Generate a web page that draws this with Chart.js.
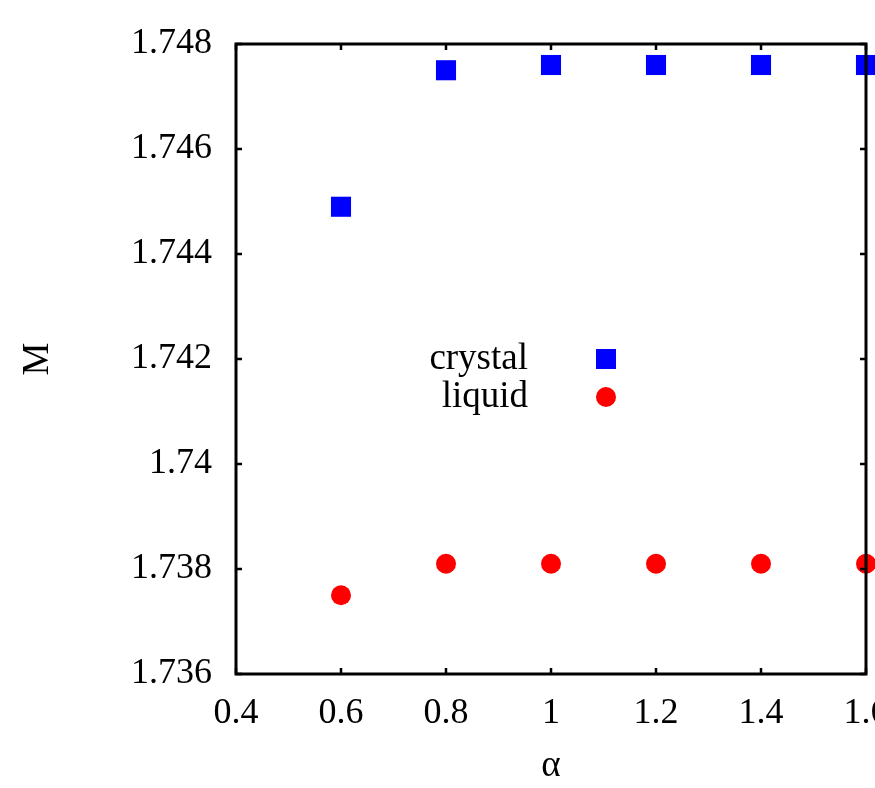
<!DOCTYPE html>
<html>
<head>
<meta charset="utf-8">
<script src="https://cdn.jsdelivr.net/npm/chart.js@4/dist/chart.umd.min.js"></script>
<style>
  html, body { margin: 0; padding: 0; background: #fff; }
  #wrap { width: 875px; height: 788px; }
</style>
</head>
<body>
<div id="wrap"><canvas id="c" width="875" height="788"></canvas></div>
<script>
const alphaValues = [0.6, 0.8, 1.0, 1.2, 1.4, 1.6];
const crystalM = [1.7449, 1.7475, 1.7476, 1.7476, 1.7476, 1.7476];
const liquidM = [1.7375, 1.7381, 1.7381, 1.7381, 1.7381, 1.7381];
const xTickValues = [0.4, 0.6, 0.8, 1.0, 1.2, 1.4, 1.6];
const yTickValues = [1.736, 1.738, 1.740, 1.742, 1.744, 1.746, 1.748];

const FONT = "'Liberation Serif', 'Times New Roman', serif";
const fmt = (v) => String(Number(v.toFixed(3)));

// frame + inward ticks on all four sides, drawn over the points
const framePlugin = {
  id: 'frame',
  afterDatasetsDraw(chart) {
    const { ctx, chartArea: a, scales: { x, y } } = chart;
    ctx.save();
    ctx.strokeStyle = '#000';
    ctx.lineWidth = 2.5;
    ctx.beginPath();
    xTickValues.forEach(v => {
      const px = x.getPixelForValue(v);
      ctx.moveTo(px, a.bottom); ctx.lineTo(px, a.bottom - 6);
      ctx.moveTo(px, a.top); ctx.lineTo(px, a.top + 6);
    });
    yTickValues.forEach(v => {
      const py = y.getPixelForValue(v);
      ctx.moveTo(a.left, py); ctx.lineTo(a.left + 6, py);
      ctx.moveTo(a.right, py); ctx.lineTo(a.right - 6, py);
    });
    ctx.stroke();
    ctx.lineWidth = 3;
    ctx.strokeRect(a.left, a.top, a.right - a.left, a.bottom - a.top);
    ctx.restore();
  }
};

// key placed inside the plot, text right-aligned left of the marker
const keyPlugin = {
  id: 'key',
  afterDraw(chart) {
    const { ctx } = chart;
    const rows = [
      { y: 359, ds: chart.data.datasets[0] },
      { y: 397, ds: chart.data.datasets[1] },
    ];
    ctx.save();
    ctx.font = '37px ' + FONT;
    ctx.textAlign = 'right';
    ctx.textBaseline = 'middle';
    rows.forEach(r => {
      ctx.fillStyle = '#000';
      ctx.fillText(r.ds.label, 528, r.y);
      ctx.fillStyle = r.ds.backgroundColor;
      if (r.ds.pointStyle === 'rect') {
        ctx.fillRect(596, r.y - 10, 20, 20);
      } else {
        ctx.beginPath();
        ctx.arc(606, r.y, 10, 0, Math.PI * 2);
        ctx.fill();
      }
    });
    ctx.restore();
  }
};

new Chart(document.getElementById('c'), {
  type: 'scatter',
  data: {
    datasets: [
      {
        label: 'crystal',
        data: alphaValues.map((a, i) => ({ x: a, y: crystalM[i] })),
        backgroundColor: '#0000ff',
        pointStyle: 'rect',
        pointRadius: 14.2,
        pointBorderWidth: 0,
        clip: false,
      },
      {
        label: 'liquid',
        data: alphaValues.map((a, i) => ({ x: a, y: liquidM[i] })),
        backgroundColor: '#ff0000',
        pointStyle: 'circle',
        pointRadius: 10,
        pointBorderWidth: 0,
        clip: false,
      },
    ],
  },
  options: {
    responsive: false,
    animation: false,
    layout: { autoPadding: false, padding: { top: 44, right: 9, left: 0, bottom: 0 } },
    plugins: { legend: { display: false }, tooltip: { enabled: false } },
    scales: {
      x: {
        type: 'linear',
        min: 0.4,
        max: 1.6,
        afterBuildTicks: (s) => { s.ticks = xTickValues.map(v => ({ value: v })); },
        afterFit: (s) => { s.height = 114; s.paddingLeft = 0; s.paddingRight = 0; },
        grid: { display: false, drawTicks: false },
        border: { display: false },
        ticks: { color: '#000', font: { family: FONT, size: 36 }, padding: 18, maxRotation: 0, autoSkip: false, callback: (v) => fmt(v) },
        title: { display: true, text: 'α', color: '#000', font: { family: FONT, size: 37 }, padding: { top: 0, bottom: 0 } },
      },
      y: {
        type: 'linear',
        min: 1.736,
        max: 1.748,
        afterBuildTicks: (s) => { s.ticks = yTickValues.map(v => ({ value: v })); },
        afterFit: (s) => { s.width = 236; s.paddingTop = 0; s.paddingBottom = 0; },
        grid: { display: false, drawTicks: false },
        border: { display: false },
        ticks: { color: '#000', font: { family: FONT, size: 36 }, padding: 24, autoSkip: false, callback: (v) => fmt(v) },
        title: { display: true, text: 'M', color: '#000', font: { family: FONT, size: 37 }, padding: { top: 16, bottom: 0 } },
      },
    },
  },
  plugins: [framePlugin, keyPlugin],
});
</script>
</body>
</html>
